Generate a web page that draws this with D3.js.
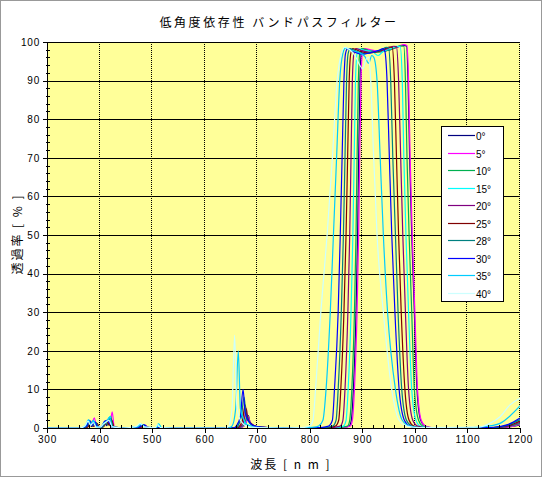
<!DOCTYPE html>
<html><head><meta charset="utf-8">
<script src="https://cdn.jsdelivr.net/npm/d3@7"></script>
<style>body{margin:0;background:#fff}svg{display:block}</style>
</head><body><svg id="c" width="542" height="477"></svg>
<script>
const titleText = "低角度依存性 バンドパスフィルター";
const xTitle = "波長 [ n m ]";
const yTitle = "透過率 [ % ]";
const angleLabels = ["0°","5°","10°","15°","20°","25°","28°","30°","35°","40°"];
const seriesColors = ["#000080","#FF00FF","#00B050","#00FFFF","#800080","#800000","#008080","#0000FF","#00CCFF","#CCFFFF"];
const xTicks = [300,400,500,600,700,800,900,1000,1100,1200];
const yTicks = [0,10,20,30,40,50,60,70,80,90,100];

const t00 = [[300,0],[365,0],[375,0.3],[381,1.2],[385,0.4],[392,1.5],[398,0.2],[405,0.3],[410,1.8],[414,0.6],[418,2.2],[424,0.3],[440,0],[475,0.2],[482,0.6],[490,0.1],[530,0],[660,0],[672,0.3],[679,1.5],[683,3.2],[687,1.2],[697,0.4],[720,0.1],[800,0],[860,0.1],[870,0.3],[875,0.5],[879,2],[883,10],[888,30],[891,50],[893,70],[895.5,90],[898,97],[902,98.2],[915,97.8],[930,97.5],[950,97.9],[965,98.6],[978,99.1],[984,99],[987,90],[990,70],[994,50],[999,30],[1004,10],[1011,2],[1019,0.5],[1030,0.1],[1100,0],[1160,0.1],[1185,0.4],[1200,0.8]];
const t05 = [[300,0],[368,0],[378,0.4],[385,1],[390,2.6],[394,0.5],[400,0.2],[410,0.8],[416,1.5],[420,1],[424,4.2],[428,0.3],[445,0],[478,0.3],[486,0.7],[494,0.1],[530,0],[660,0],[672,0.3],[679,1.5],[683,3],[687,1.2],[697,0.4],[720,0.1],[800,0],[862,0.1],[872,0.3],[877,0.5],[881,2],[885,10],[890,30],[893,50],[895,70],[897.5,90],[900,97],[904,98.3],[918,97.9],[935,97.6],[952,98],[968,98.8],[979,99.3],[985,99.1],[988,90],[991,70],[995,50],[1000,30],[1005,10],[1012,2],[1020,0.5],[1032,0.1],[1100,0],[1165,0.1],[1188,0.5],[1200,1]];
const t10 = [[300,0],[366,0],[376,0.4],[382,1.6],[387,0.5],[392,1],[398,0.2],[406,0.4],[412,1.4],[417,0.8],[421,3],[426,0.3],[445,0],[476,0.2],[484,0.5],[492,0.1],[530,0],[662,0],[670,0.3],[677,1.5],[681,3.5],[685,1.5],[695,0.5],[715,0.1],[800,0],[856,0.1],[866,0.3],[872,0.5],[876,2],[880,10],[885,30],[888,50],[890,70],[892.5,90],[895,97],[899,98.3],[912,97.8],[930,97.4],[948,97.8],[962,98.5],[973,99],[979,98.9],[982,90],[985,70],[989,50],[994,30],[999,10],[1007,2],[1015,0.5],[1028,0.1],[1100,0],[1160,0.1],[1185,0.6],[1200,1.2]];
const t15 = [[300,0],[364,0],[374,0.5],[380,2],[384,0.8],[389,1.8],[395,0.2],[404,0.3],[410,1],[415,1.6],[420,3],[425,0.4],[445,0],[474,0.3],[481,0.8],[489,0.2],[508,0.1],[513,1],[518,0.1],[540,0],[655,0],[662,0.3],[666,1.5],[670,4],[674,1.5],[682,0.8],[692,0.4],[712,0.1],[790,0],[848,0.1],[858,0.3],[864,0.5],[869,2],[873,10],[878.5,30],[882,50],[884.5,70],[887,90],[890,97],[894,98.2],[905,97.8],[918,97.6],[930,96.5],[940,97.6],[955,98.3],[966,98.9],[972,98.8],[976,90],[979,70],[983,50],[988,30],[994,10],[1002,2],[1010,0.5],[1025,0.1],[1100,0],[1155,0.1],[1182,0.8],[1200,2]];
const t20 = [[300,0],[366,0],[377,0.3],[383,1.3],[388,0.4],[394,0.9],[400,0.1],[407,0.5],[413,1.9],[418,0.9],[422,2.4],[427,0.2],[445,0],[477,0.2],[485,0.6],[493,0.1],[530,0],[662,0],[668,0.3],[675,2],[679,5],[683,2],[692,0.8],[702,0.2],[725,0.1],[790,0],[842,0.1],[852,0.3],[858,0.5],[863,2],[867,10],[872.5,30],[876,50],[878.5,70],[881,90],[884,97],[888,98.3],[900,97.7],[915,97.3],[932,97.6],[948,98.3],[960,98.9],[965,98.8],[969,90],[973,70],[977,50],[982,30],[988,10],[996,2],[1005,0.5],[1020,0.1],[1100,0],[1155,0.1],[1182,0.6],[1200,1.5]];
const t25 = [[300,0],[367,0],[378,0.3],[384,1.5],[389,0.5],[395,1.2],[401,0.1],[408,0.4],[414,1.5],[419,0.7],[423,2],[428,0.2],[445,0],[478,0.2],[487,0.5],[495,0.1],[530,0],[660,0],[665,0.3],[672,2],[677,6],[681,2.5],[690,1],[700,0.3],[722,0.1],[790,0],[833,0.1],[843,0.3],[849,0.5],[855,2],[859,10],[865,30],[869,50],[872,70],[875,90],[878,97],[882,98.3],[895,97.6],[910,97.2],[928,97.5],[942,98.2],[952,98.7],[957,98.6],[961,90],[965,70],[969,50],[974,30],[981,10],[989,2],[998,0.5],[1012,0.1],[1100,0],[1150,0.1],[1180,0.7],[1200,1.8]];
const t28 = [[300,0],[365,0],[376,0.4],[382,1.8],[387,0.6],[393,1.4],[399,0.1],[406,0.3],[411,1.2],[416,1.8],[421,2.5],[426,0.3],[445,0],[475,0.3],[483,0.9],[491,0.2],[530,0],[658,0],[663,0.5],[670,3],[675,8],[679,3],[688,1],[698,0.3],[720,0.1],[785,0],[828,0.1],[838,0.3],[844,0.5],[850,2],[854,10],[860,30],[864,50],[867,70],[870,90],[873,97],[877,98.3],[890,97.5],[905,97],[922,97.4],[936,98],[946,98.6],[950,98.5],[954,90],[958,70],[963,50],[968,30],[975,10],[984,2],[994,0.5],[1008,0.1],[1100,0],[1150,0.1],[1178,0.8],[1200,2.2]];
const t30 = [[300,0],[364,0],[375,0.5],[381,2],[386,0.7],[391,1.6],[397,0.2],[404,0.4],[409,1.6],[414,2],[419,1.2],[424,0.2],[445,0],[474,0.2],[480,0.6],[486,0.8],[492,0.1],[530,0],[655,0],[660,0.5],[668,3],[673,10],[677,4],[685,1.5],[695,0.5],[718,0.1],[780,0],[820,0.1],[830,0.3],[836,0.5],[843,2],[847,10],[854,30],[858,50],[861.5,70],[865,90],[868,97],[872,98.3],[885,97.4],[900,96.8],[915,97.2],[930,97.8],[940,98.3],[943,97.5],[947,90],[951,72],[956,50],[962,30],[970,10],[980,2],[990,0.5],[1005,0.1],[1100,0],[1150,0.2],[1175,0.8],[1200,2.6]];
const t35 = [[300,0],[363,0],[373,0.6],[379,2.2],[383,0.9],[388,2],[394,0.3],[402,0.3],[408,1.3],[413,1.7],[419,2.8],[424,0.4],[445,0],[472,0.3],[479,1],[487,0.2],[508,0.1],[512,1.1],[517,0.1],[540,0],[645,0],[652,0.5],[659,5],[664,20],[668,5],[675,2],[685,0.5],[705,0.1],[760,0],[795,0.1],[812,0.3],[817,0.5],[825,2],[831,10],[839,30],[845,50],[851,70],[857,90],[863,97],[868,98.4],[880,97.8],[895,97.2],[905,96.2],[912,94.5],[918,96.5],[922,96],[928,90],[934,70],[940,50],[948,30],[963,10],[976,2],[990,0.5],[1010,0.1],[1100,0],[1120,0.2],[1145,0.6],[1162,1.2],[1180,3],[1200,5.7]];
const t40 = [[300,0],[362,0],[372,0.5],[378,1.8],[383,0.7],[388,1.4],[394,0.2],[402,0.3],[407,1],[412,1.5],[418,2],[424,0.3],[445,0],[470,0.4],[477,1.2],[485,0.3],[506,0.1],[511,0.9],[516,0.1],[540,0],[638,0],[645,0.3],[652,5],[657,24],[661,6],[668,2],[680,0.5],[700,0.1],[750,0],[785,0.1],[795,0.3],[800,0.5],[806,2],[811,10],[821,30],[833,50],[843,70],[852,90],[860,97],[866,98.6],[876,98],[888,96],[895,94],[901,93],[907,95.5],[912,96],[916,90],[921,72],[928,50],[940,30],[956,10],[970,2],[985,0.5],[1010,0.1],[1100,0.2],[1124,0.3],[1140,1],[1162,2.9],[1181,6],[1200,7.7]];
const seriesData = [t00,t05,t10,t15,t20,t25,t28,t30,t35,t40];

const svg = d3.select("#c");
const L=47, R=520, T=42, B=428;
const x = d3.scaleLinear().domain([300,1200]).range([L,R]);
const y = d3.scaleLinear().domain([0,100]).range([B,T]);
const cr = v => Math.round(v)+0.5;

svg.append("rect").attr("x",0).attr("y",0).attr("width",542).attr("height",477).attr("fill","#fff");
svg.append("rect").attr("x",0.5).attr("y",0.5).attr("width",541).attr("height",476).attr("fill","none").attr("stroke","#999");

svg.append("rect").attr("x",L).attr("y",T).attr("width",R-L).attr("height",B-T).attr("fill","#FFFF99");

// vertical dotted gridlines
svg.append("g").selectAll("line").data(xTicks.filter(d=>d>300)).join("line")
  .attr("x1",d=>cr(x(d))-1).attr("x2",d=>cr(x(d))-1).attr("y1",T).attr("y2",B)
  .attr("stroke","#000").attr("stroke-dasharray","1,1").attr("shape-rendering","crispEdges");
// horizontal gridlines
svg.append("g").selectAll("line").data(yTicks.filter(d=>d>0)).join("line")
  .attr("x1",L).attr("x2",R).attr("y1",d=>cr(y(d))).attr("y2",d=>cr(y(d)))
  .attr("stroke","#000").attr("shape-rendering","crispEdges");

// data lines
svg.append("clipPath").attr("id","clp").append("rect").attr("x",L).attr("y",T-2).attr("width",R-L).attr("height",B-T+2);
const line = d3.line().x(d=>x(d[0])).y(d=>y(d[1])).curve(d3.curveMonotoneX);
svg.append("g").attr("clip-path","url(#clp)").selectAll("path").data(seriesData).join("path")
  .attr("d",line).attr("fill","none").attr("stroke",(d,i)=>seriesColors[i]).attr("stroke-width",1.2);

const tickFont = "'Liberation Sans', Arial, sans-serif";
// axes
const yAxis = svg.append("g").attr("transform",`translate(${L},0)`)
  .call(d3.axisLeft(y).tickValues(yTicks).tickSize(4).tickSizeOuter(0).tickPadding(3).tickFormat(d3.format("d")));
const xAxis = svg.append("g").attr("transform",`translate(0,${B})`)
  .call(d3.axisBottom(x).tickValues(xTicks).tickSize(5).tickSizeOuter(0).tickPadding(3).tickFormat(d3.format("d")));
[yAxis,xAxis].forEach(g=>{
  g.selectAll("path,line").attr("stroke","#000").attr("shape-rendering","crispEdges");
  g.selectAll("text").attr("fill","#000").style("font-family",tickFont).style("font-size","10px").style("letter-spacing","0.8px");
});
// minor ticks
const yMinor = d3.range(0,101,2).filter(v=>v%10!==0);
svg.append("g").attr("transform",`translate(${L+3},0)`)
  .call(d3.axisLeft(y).tickValues(yMinor).tickSize(4).tickSizeOuter(0).tickFormat(""))
  .call(g=>{g.select(".domain").remove();g.selectAll("line").attr("stroke","#000").attr("shape-rendering","crispEdges");});
const xMinor = d3.range(320,1200,20).filter(v=>v%100!==0);
svg.append("g").attr("transform",`translate(0,${B})`)
  .call(d3.axisTop(x).tickValues(xMinor).tickSize(3).tickSizeOuter(0).tickFormat(""))
  .call(g=>{g.select(".domain").remove();g.selectAll("line").attr("stroke","#000").attr("shape-rendering","crispEdges");});

const jp = "'Noto Sans CJK JP', 'Noto Sans', sans-serif";
svg.append("text").attr("x",279).attr("y",27).attr("text-anchor","middle")
  .style("font-family",jp).style("font-size","12px").style("letter-spacing","2.6px").attr("fill","#000").text(titleText);
svg.append("text").attr("x",291).attr("y",469).attr("text-anchor","middle")
  .style("font-family",jp).style("font-size","12px").style("letter-spacing","2px").attr("fill","#000").text(xTitle);
svg.append("text").attr("transform","translate(22,234) rotate(-90)").attr("text-anchor","middle")
  .style("font-family",jp).style("font-size","12px").style("letter-spacing","2px").attr("fill","#000").text(yTitle);

// legend
const lg = svg.append("g");
lg.append("rect").attr("x",441.5).attr("y",126.5).attr("width",62).attr("height",175).attr("fill","#fff").attr("stroke","#000");
const items = lg.selectAll("g").data(angleLabels).join("g")
  .attr("transform",(d,i)=>`translate(0,${Math.round(135+i*17.5)+0.5})`);
items.append("line").attr("x1",448).attr("x2",475).attr("stroke",(d,i)=>seriesColors[i]).attr("stroke-width",1.2);
items.append("text").attr("x",476).attr("y",4).text(d=>d)
  .style("font-family",tickFont).style("font-size","10px").attr("fill","#000");
</script></body></html>
